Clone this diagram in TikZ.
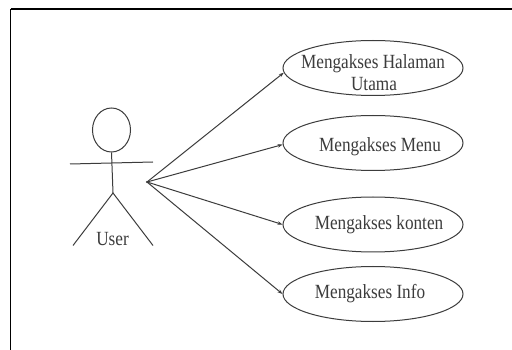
\documentclass[tikz,border=0pt]{standalone}
\usepackage{fontspec}
\usepackage{graphicx}
\setmainfont{Liberation Serif}
\usetikzlibrary{shapes.geometric,arrows.meta}
\definecolor{ink}{HTML}{3C3C3C}
\newcommand{\tallword}[1]{\scalebox{1}[1.17]{#1}}
\newcommand{\casetext}[3][0pt]{\makebox[0pt]{\hspace*{#1}\raisebox{#2}[0pt][0pt]{\tallword{#3}}}}
\tikzset{
  usecase/.style={draw=ink,line width=1pt,ellipse,minimum width=180pt,minimum height=55pt,inner sep=0pt,text=ink,font=\fontsize{17.2}{22}\selectfont},
  stick/.style={draw=ink,line width=1pt},
  assoc/.style={draw=ink,line width=1pt,-{Stealth[length=5pt,width=3.5pt]}}
}
\begin{document}
\begin{tikzpicture}[x=1pt,y=-1pt]
\useasboundingbox (0,0) rectangle (512,350);
\fill[white] (0,0) rectangle (512,350);
\coordinate (tl) at (10.5,9);
\coordinate (tr) at (512,9);
\coordinate (bl) at (10.5,350);
\draw[black,line width=1.2pt] (bl) -- (tl);
\draw[black,line width=2pt] (tl) -- (tr);
\node[draw=ink,line width=1pt,ellipse,minimum width=38pt,minimum height=44pt,inner sep=0pt] (head) at (111.5,130) {};
\coordinate (armL) at (70,164);
\coordinate (armR) at (153,162);
\coordinate (hip) at (113,193);
\coordinate (legL) at (73,245.5);
\coordinate (legR) at (153,245.5);
\draw[stick] (armL) -- (armR);
\draw[stick] (head.south) -- (hip);
\draw[stick] (legL) -- (hip) -- (legR);
\node[text=ink,font=\fontsize{17.2}{20}\selectfont,inner sep=0pt] (user) at (112.5,239) {\tallword{User}};
\node[usecase] (e1) at (373,68) {\casetext{-1pt}{Mengakses Halaman}\casetext[2pt]{-22.7pt}{Utama}};
\node[usecase] (e2) at (373,143) {\casetext[14pt]{-8.7pt}{Mengakses Menu}};
\node[usecase] (e3) at (373,224.5) {\casetext[12pt]{-5.5pt}{Mengakses konten}};
\node[usecase] (e4) at (373,294) {\casetext[-6pt]{-5pt}{Mengakses Info}};
\coordinate (hub) at (147,182);
\fill[ink] (hub) circle (1.2pt);
\draw[assoc] (hub) -- (e1.183);
\draw[assoc] (hub) -- (e2.181);
\draw[assoc] (hub) -- (e3.west);
\draw[assoc] (hub) -- (e4.west);
\end{tikzpicture}
\end{document}
